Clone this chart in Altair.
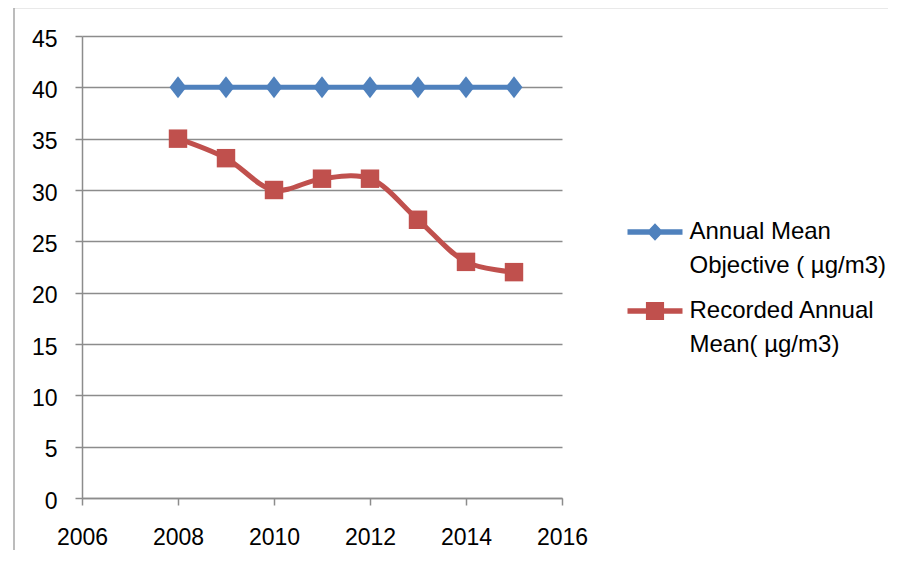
import altair as alt
import pandas as pd

years = [2008, 2009, 2010, 2011, 2012, 2013, 2014, 2015]
objective = [40, 40, 40, 40, 40, 40, 40, 40]
recorded = [35, 33.1, 30, 31.1, 31.1, 27.1, 23, 22]

series_names = ["Annual Mean Objective ( µg/m3)", "Recorded Annual Mean( µg/m3)"]
label_line1 = ["Annual Mean", "Recorded Annual"]
label_line2 = ["Objective ( µg/m3)", "Mean( µg/m3)"]
colors = ["#4F81BD", "#C0504D"]
x_ticks = [2006, 2008, 2010, 2012, 2014, 2016]
y_ticks = [0, 5, 10, 15, 20, 25, 30, 35, 40, 45]

rows = []
for i, vals in enumerate([objective, recorded]):
    for yr, v in zip(years, vals):
        rows.append({"year": yr, "value": v, "series": series_names[i],
                     "line1": label_line1[i], "line2": label_line2[i]})
df = pd.DataFrame(rows)

FONT = "Liberation Sans"
GRID = "#8c8c8c"

x = alt.X("year:Q", scale=alt.Scale(domain=[2006, 2016], nice=False, zero=False),
          axis=alt.Axis(values=x_ticks, format="d", title=None, grid=False, labelFlush=False,
                        domainColor=GRID, domainWidth=1.5, tickColor=GRID, tickWidth=1.5,
                        tickSize=7, labelPadding=21, labelFont=FONT, labelFontSize=23,
                        labelColor="black"))
y = alt.Y("value:Q", scale=alt.Scale(domain=[0, 45], nice=False),
          axis=alt.Axis(values=y_ticks, title=None, grid=True, gridColor=GRID, gridWidth=1.5,
                        labelFlush=False,
                        domainColor=GRID, domainWidth=1.5, tickColor=GRID, tickWidth=1.5,
                        tickSize=7, labelPadding=18, labelOffset=3, labelFont=FONT,
                        labelFontSize=23, labelColor="black"))

color_scale = alt.Scale(domain=series_names, range=colors)

path_a = "M-1,-0.1L1,-0.1L1,0.1L-1,0.1Z M0,-0.32L0.3,0L0,0.32L-0.3,0Z"
path_b = "M-1,-0.1L1,-0.1L1,0.1L-1,0.1Z M-0.33,-0.33L0.33,-0.33L0.33,0.33L-0.33,0.33Z"
diamond = "M0,-1L0.77,0L0,1L-0.77,0Z"

legend1 = alt.Legend(title=None, orient="none", legendX=545.5, legendY=168.5,
                     symbolSize=3025, symbolStrokeWidth=0, symbolOpacity=1,
                     rowPadding=39, labelOffset=7, labelFont=FONT, labelFontSize=24,
                     labelColor="black", labelLimit=400, labelBaseline="middle", padding=0)
legend2 = alt.Legend(title=None, orient="none", legendX=545.5, legendY=202,
                     symbolSize=3025, symbolStrokeWidth=0, symbolOpacity=0,
                     rowPadding=24.5, labelOffset=7, labelFont=FONT, labelFontSize=24,
                     labelColor="black", labelLimit=400, labelBaseline="middle", padding=0)

base = alt.Chart(df)

frame = alt.Chart(pd.DataFrame({"k": [0]})).mark_rect(
    filled=False, stroke="#a6a6a6", strokeWidth=1.5
).encode(x=alt.value(-68), x2=alt.value(1200), y=alt.value(-28.5), y2=alt.value(1200))

legend_layer = base.mark_point(size=1, filled=True).encode(
    x=x, y=y,
    fill=alt.Fill("line1:N", scale=alt.Scale(domain=label_line1, range=colors), legend=legend1),
    shape=alt.Shape("line1:N", scale=alt.Scale(domain=label_line1, range=[path_a, path_b]), legend=legend1),
    stroke=alt.Stroke("line2:N", scale=alt.Scale(domain=label_line2, range=["transparent", "transparent"]), legend=legend2),
)

lines = base.mark_line(interpolate="catmull-rom", strokeWidth=5).encode(
    x=x, y=y, color=alt.Color("series:N", scale=color_scale, legend=None), detail="series:N"
)

pts_obj = base.transform_filter(alt.datum.series == series_names[0]).mark_point(
    shape=diamond, size=484, filled=True, opacity=1
).encode(x=x, y=y, color=alt.Color("series:N", scale=color_scale, legend=None))

pts_rec = base.transform_filter(alt.datum.series == series_names[1]).mark_square(
    size=340, opacity=1
).encode(x=x, y=y, color=alt.Color("series:N", scale=color_scale, legend=None))

chart = alt.layer(frame, legend_layer, lines, pts_obj, pts_rec).properties(
    width=480, height=462,
    autosize=alt.AutoSizeParams(type="none"),
    padding={"left": 74, "top": 28, "right": 326, "bottom": 52},
    background="white",
).configure_view(stroke=None)

chart.save("out.html", embed_options={"renderer": "svg", "actions": False})
